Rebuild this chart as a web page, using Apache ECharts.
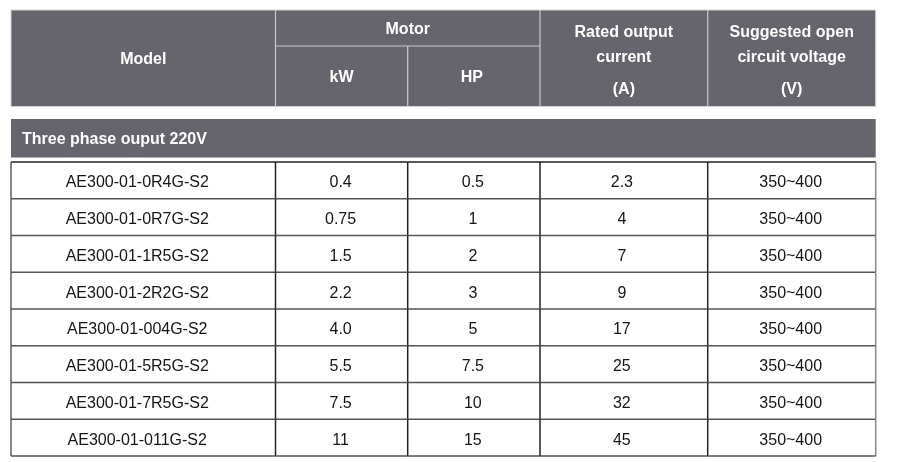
<!DOCTYPE html>
<html><head><meta charset="utf-8">
<script src="https://cdn.jsdelivr.net/npm/echarts@6/dist/echarts.min.js"></script>
<style>html,body{margin:0;padding:0;background:#fff}#c{width:900px;height:462px}</style>
</head><body><div id="c"></div>
<script>
// ---- data ----
const models = ['AE300-01-0R4G-S2','AE300-01-0R7G-S2','AE300-01-1R5G-S2','AE300-01-2R2G-S2','AE300-01-004G-S2','AE300-01-5R5G-S2','AE300-01-7R5G-S2','AE300-01-011G-S2'];
const kW = ['0.4','0.75','1.5','2.2','4.0','5.5','7.5','11'];
const hp = ['0.5','1','2','3','5','7.5','10','15'];
const current = ['2.3','4','7','9','17','25','32','45'];
const voltage = ['350~400','350~400','350~400','350~400','350~400','350~400','350~400','350~400'];
const columnHeaders = ['Model','kW','HP',['Rated output','current','(A)'],['Suggested open','circuit voltage','(V)']];
const groupHeader = 'Motor';
const sectionTitle = 'Three phase ouput 220V';

// ---- layout (axis units) ----
const W = 864.7, H = 446;
const colEdges = [0, 264.5, 396.7, 529, 696.7, 864.7];
const hdrBottom = 96.5, motorSplit = 36, secTop = 109, secBottom = 147.5, dataTop = 152, rowH = 36.75;
const multiLineY = [20.7, 46, 78];
const textDx = [-6, -1, -1, -2, -1];
const TDY = 1.6;
const FONT = "'Liberation Sans', Arial, sans-serif";
const HDR_BG = '#66656e', HDR_LINE = '#c8c8cd';

const columns = [models, kW, hp, current, voltage];
const cells = [];
for (let i = 0; i < models.length; i++) for (let j = 0; j < columns.length; j++) cells.push([j, i]);

const chart = echarts.init(document.getElementById('c'), null, {renderer: 'canvas'});

function txt(p, s, bold, color) {
  return {type: 'text', style: {x: p[0], y: p[1] + TDY, text: s, fill: color, fontSize: 16, fontFamily: FONT,
    fontWeight: bold ? 'bold' : 'normal', align: 'center', verticalAlign: 'middle'}};
}
function ln(a, b, color, w) {
  return {type: 'line', shape: {x1: a[0], y1: a[1], x2: b[0], y2: b[1]}, style: {stroke: color, lineWidth: w}};
}

function renderHeader(params, api) {
  const c = (x, y) => api.coord([x, y]);
  const ch = [];
  const a = c(0, 0), b = c(W, hdrBottom);
  ch.push({type: 'rect', shape: {x: a[0], y: a[1], width: b[0] - a[0], height: b[1] - a[1]},
    style: {fill: HDR_BG, stroke: '#d4d4d8', lineWidth: 1}});
  [1, 3, 4].forEach(k => ch.push(ln(c(colEdges[k], 0), c(colEdges[k], hdrBottom), HDR_LINE, 1.2)));
  ch.push(ln(c(colEdges[2], motorSplit), c(colEdges[2], hdrBottom), HDR_LINE, 1.2));
  ch.push(ln(c(colEdges[1], motorSplit), c(colEdges[3], motorSplit), HDR_LINE, 1.2));
  const mid = k => (colEdges[k] + colEdges[k + 1]) / 2;
  ch.push(txt(c(mid(0), 48), columnHeaders[0], true, '#fff'));
  ch.push(txt(c((colEdges[1] + colEdges[3]) / 2, 18), groupHeader, true, '#fff'));
  ch.push(txt(c(mid(1), 66), columnHeaders[1], true, '#fff'));
  ch.push(txt(c(mid(2) - 2, 66), columnHeaders[2], true, '#fff'));
  [3, 4].forEach(k => columnHeaders[k].forEach((s, li) => ch.push(txt(c(mid(k), multiLineY[li]), s, true, '#fff'))));
  const s0 = c(0, secTop), s1 = c(W, secBottom);
  ch.push({type: 'rect', shape: {x: s0[0], y: s0[1], width: s1[0] - s0[0], height: s1[1] - s0[1]}, style: {fill: HDR_BG}});
  const tp = c(11, (secTop + secBottom) / 2);
  ch.push({type: 'text', style: {x: tp[0], y: tp[1] + TDY, text: sectionTitle, fill: '#fff', fontSize: 16, fontFamily: FONT,
    fontWeight: 'bold', align: 'left', verticalAlign: 'middle'}});
  return {type: 'group', children: ch};
}

function renderCell(params, api) {
  const j = api.value(0), i = api.value(1);
  const y0 = dataTop + i * rowH, y1 = y0 + rowH;
  const a = api.coord([colEdges[j], y0]), b = api.coord([colEdges[j + 1], y1]);
  const ch = [];
  ch.push({type: 'rect', shape: {x: a[0], y: a[1], width: b[0] - a[0], height: b[1] - a[1]}, style: {fill: '#fff'}});
  ch.push(ln([a[0], a[1]], [b[0], a[1]], i === 0 ? '#222' : '#555', 1.4));
  ch.push(ln([a[0], a[1]], [a[0], b[1]], j === 0 ? '#444' : '#222', j === 0 ? 1.3 : 1.5));
  if (j === colEdges.length - 2) ch.push(ln([b[0], a[1]], [b[0], b[1]], '#8c8c8c', 1.6));
  if (i === models.length - 1) ch.push(ln([a[0], b[1]], [b[0], b[1]], '#555', 1.4));
  const p = api.coord([(colEdges[j] + colEdges[j + 1]) / 2 + textDx[j], (y0 + y1) / 2 + 1]);
  ch.push(txt(p, columns[j][i], false, '#151515'));
  return {type: 'group', children: ch};
}

chart.setOption({
  animation: false,
  grid: {left: 11, top: 10, width: W, height: H, show: false},
  xAxis: {type: 'value', min: 0, max: W, show: false},
  yAxis: {type: 'value', min: 0, max: H, inverse: true, show: false},
  series: [
    {type: 'custom', data: [[0, 0]], renderItem: renderHeader, silent: true, clip: false},
    {type: 'custom', data: cells, renderItem: renderCell, silent: true, clip: false, z: 3}
  ]
});
</script></body></html>
